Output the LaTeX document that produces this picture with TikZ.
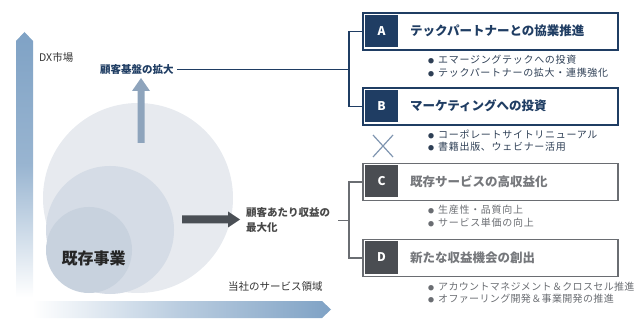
\documentclass[tikz,border=0pt]{standalone}
\usepackage{fontspec}
\setmainfont{Noto Sans CJK JP}
\definecolor{navy}{HTML}{1F3D63}
\definecolor{dgray}{HTML}{4A4D52}
\definecolor{mgray}{HTML}{6A6D72}
\definecolor{tgray}{HTML}{76787C}
\definecolor{axisblue}{HTML}{7FA2C5}
\definecolor{circA}{HTML}{E7EAEF}
\definecolor{circB}{HTML}{D5DCE6}
\definecolor{circC}{HTML}{C8D2DE}
\definecolor{uparrow}{HTML}{8EA4BC}
\definecolor{rarrow}{HTML}{4A4F55}
\definecolor{xmark}{HTML}{7F95B0}
\definecolor{bulletnavy}{HTML}{2E3F55}
\newcommand{\bdot}{{\fontsize{6}{6}\selectfont ●}\hspace{4pt}}
\begin{document}
\begin{tikzpicture}[x=1pt,y=-1pt,
  panel/.style={line width=1.2pt, minimum width=255, minimum height=37, inner sep=0, fill=white},
  panelAB/.style={panel, draw=navy},
  panelCD/.style={panel, draw=mgray},
  tag/.style={minimum width=33, minimum height=32, inner sep=0, text=white, font=\fontsize{12}{12}\selectfont\bfseries},
  tagAB/.style={tag, fill=navy},
  tagCD/.style={tag, fill=dgray},
  ttl/.style={anchor=west, inner sep=0, font=\fontsize{12.5}{12.5}\selectfont\bfseries},
  ttlAB/.style={ttl, text=navy},
  ttlCD/.style={ttl, text=tgray},
  itm/.style={anchor=west, inner sep=0, font=\fontsize{10}{10}\selectfont\addfontfeatures{LetterSpace=7}},
  itmAB/.style={itm, text=bulletnavy},
  itmCD/.style={itm, text=mgray},
  itmD/.style={anchor=west, inner sep=0, text=mgray, font=\fontsize{10}{10}\selectfont\addfontfeatures{LetterSpace=3.5}},
  lab/.style={inner sep=0, font=\fontsize{10.5}{13}\selectfont, text=black!80},
  brAB/.style={draw=navy, line width=1.1pt},
  brCD/.style={draw=mgray, line width=1.1pt}
]
\useasboundingbox (0,0) rectangle (640,331);

% axes
\shade[top color=axisblue, bottom color=white, middle color=axisblue!80]
  (16,297) -- (16,41) -- (24.5,32) -- (33,41) -- (33,297) -- cycle;
\shade[left color=white, right color=axisblue, middle color=axisblue!55]
  (32,301) -- (322,301) -- (331,309.5) -- (322,318) -- (32,318) -- cycle;

% circles
\fill[circA] (138,198) circle (95);
\fill[circB] (110,230) circle (64);
\fill[circC] (89,250) circle (43);

% arrows
\fill[uparrow] (137.5,143) -- (137.5,91) -- (132,91) -- (141,78) -- (150,91) -- (144.5,91) -- (144.5,143) -- cycle;
\fill[rarrow] (182,215.5) -- (228,215.5) -- (228,211.5) -- (240,219.5) -- (228,227.5) -- (228,223.5) -- (182,223.5) -- cycle;

% labels
\node[lab, anchor=west] (dx) at (39,58) {DX市場};
\node[lab, anchor=west, text=navy, font=\fontsize{10.5}{13}\selectfont\bfseries] (grow) at (100,69.5) {顧客基盤の拡大};
\node[lab, anchor=west, align=left, text=black!72, font=\fontsize{10.5}{15}\selectfont\bfseries] (rev) at (246,220.5) {顧客あたり収益の\\最大化};
\node[lab, anchor=west] (svc) at (228,287) {当社のサービス領域};
\node[inner sep=0, font=\fontsize{16}{16}\selectfont\bfseries, text=black!85] (core) at (93.5,258) {既存事業};

% panels
\node[panelAB] (A) at (490.5,31.5) {};
\node[panelAB] (B) at (490.5,106.5) {};
\node[panelCD] (C) at (490.5,182) {};
\node[panelCD] (D) at (490.5,258) {};

\node[tagAB] (tA) at (381.5,31) {A};
\node[tagAB] (tB) at (381.5,106) {B};
\node[tagCD] (tC) at (381.5,181.5) {C};
\node[tagCD] (tD) at (381.5,257.5) {D};

\node[ttlAB] (hA) at (410,31) {テックパートナーとの協業推進};
\node[ttlAB] (hB) at (410,106) {マーケティングへの投資};
\node[ttlCD] (hC) at (410,181.5) {既存サービスの高収益化};
\node[ttlCD] (hD) at (410,257.5) {新たな収益機会の創出};

\node[itmAB] (a1) at (428,60) {\bdot エマージングテックへの投資};
\node[itmAB] (a2) at (428,72.5) {\bdot テックパートナーの拡大・連携強化};
\node[itmAB] (b1) at (428,134) {\bdot コーポレートサイトリニューアル};
\node[itmAB] (b2) at (428,146.5) {\bdot 書籍出版、ウェビナー活用};
\node[itmCD] (c1) at (428,210) {\bdot 生産性・品質向上};
\node[itmCD] (c2) at (428,222.5) {\bdot サービス単価の向上};
\node[itmD] (d1) at (428,286.5) {\bdot アカウントマネジメント＆クロスセル推進};
\node[itmD] (d2) at (428,299) {\bdot オファーリング開発＆事業開発の推進};

% cross
\draw[xmark, line width=1.2pt] (373,135) -- (393,157) (393,135) -- (373,157);

% brackets
\coordinate (jAB) at (349,69.5);
\coordinate (jCD) at (349,220.5);
\draw[brAB] ([xshift=3]grow.east) -- (jAB);
\draw[brAB] (A.west) -| (jAB);
\draw[brAB] (B.west) -| (jAB);
\draw[brCD] ([xshift=8]rev.east |- jCD) -- (jCD);
\draw[brCD] (C.west) -| (jCD);
\draw[brCD] (D.west) -| (jCD);
\end{tikzpicture}
\end{document}
